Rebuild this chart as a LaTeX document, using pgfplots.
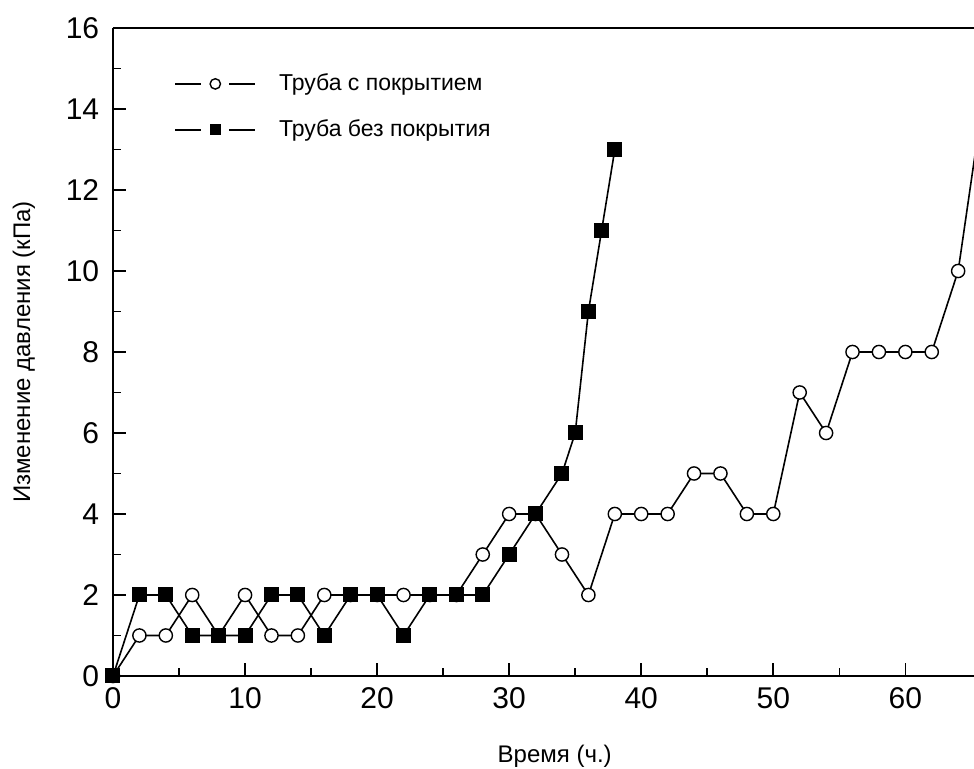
\documentclass[border=0pt]{standalone}
\usepackage{fontspec}
\setmainfont{Liberation Sans}
\usepackage{pgfplots}
\pgfplotsset{compat=1.18}
\usetikzlibrary{calc}

\begin{document}
\begin{tikzpicture}
\begin{axis}[
  scale only axis, width=430.5pt, height=324pt,
  xmin=0, xmax=65.2, ymin=0, ymax=16,
  axis x line*=box, axis y line*=left,
  xtick={0,10,...,60}, ytick={0,2,...,16},
  minor x tick num=1, minor y tick num=1,
  xtick pos=left, ytick pos=left,
  tick align=inside,
  major tick length=6.5pt, minor tick length=4pt,
  tick style={black, line width=0.8pt},
  axis line style={line width=0.8pt},
  /pgf/number format/assume math mode=true,
  tick label style={font=\fontsize{15}{17}\selectfont},
  yticklabel style={xshift=-3.4pt},
  xticklabel style={yshift=-2.4pt},
  xlabel={Время (ч.)},
  every axis x label/.style={at={(rel axis cs:0.513,0)}, anchor=base, yshift=-43.5pt, font=\fontsize{12}{14}\selectfont},
  ylabel={Изменение давления (кПа)},
  every axis y label/.style={at={(rel axis cs:0,0.5)}, xshift=-44.5pt, rotate=90, anchor=center, font=\fontsize{12}{14}\selectfont},
  legend cell align=left,
  legend style={draw=none, fill=none, at={(rel axis cs:0.064,0.942)}, anchor=north west,
    font=\fontsize{11.5}{13}\selectfont, row sep=9pt,
    /tikz/every odd column/.append style={column sep=9.5pt}},
  legend image code/.code={
    \draw[mark=none, line width=0.8pt] (0pt,0pt) -- (13pt,0pt);
    \draw[mark=none, line width=0.8pt] (27pt,0pt) -- (40pt,0pt);
    \draw[mark size=2.6pt] plot coordinates {(20pt,0pt)};
  },
]
\coordinate (sw) at (rel axis cs:0,0);
\coordinate (ne) at (rel axis cs:1,1);

% труба с покрытием
\addplot[black, line width=0.8pt, mark=*, mark size=3.3pt,
  mark options={fill=white, draw=black, line width=0.7pt}]
coordinates {
  (0,0) (2,1) (4,1) (6,2) (8,1) (10,2) (12,1) (14,1) (16,2) (18,2)
  (20,2) (22,2) (24,2) (26,2) (28,3) (30,4) (32,4) (34,3) (36,2) (38,4)
  (40,4) (42,4) (44,5) (46,5) (48,4) (50,4) (52,7) (54,6) (56,8) (58,8)
  (60,8) (62,8) (64,10) (66,14.5)
};
\addlegendentry{Труба с покрытием}

% труба без покрытия
\addplot[black, line width=0.8pt, mark=square*, mark size=3.5pt,
  mark options={fill=black, draw=black, line width=0.5pt}]
coordinates {
  (0,0) (2,2) (4,2) (6,1) (8,1) (10,1) (12,2) (14,2) (16,1) (18,2)
  (20,2) (22,1) (24,2) (26,2) (28,2) (30,3) (32,4) (34,5) (35,6) (36,9)
  (37,11) (38,13)
};
\addlegendentry{Труба без покрытия}
\end{axis}
\pgfresetboundingbox
\path ($(sw)+(-56.5pt,-46.5pt)$) rectangle ($(ne)+(0pt,14pt)$);
\end{tikzpicture}
\end{document}
